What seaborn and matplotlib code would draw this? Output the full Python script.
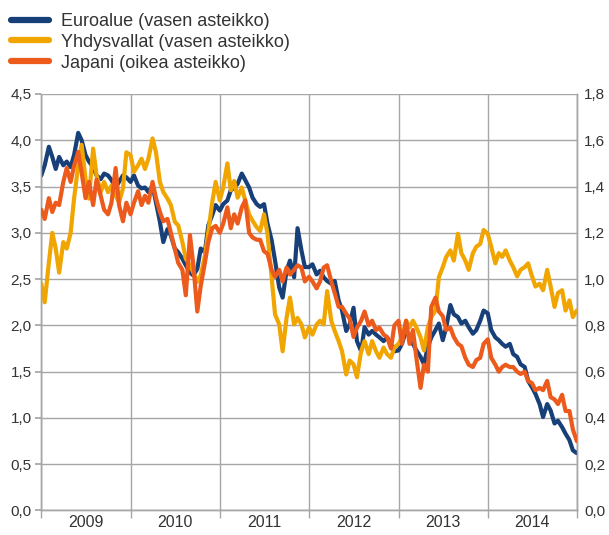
import numpy as np
import pandas as pd
import matplotlib
matplotlib.use("Agg")
import matplotlib.pyplot as plt
import matplotlib.dates as mdates
from matplotlib.lines import Line2D
from matplotlib.ticker import FuncFormatter, MultipleLocator
import seaborn as sns

# ---- data (semi-monthly) ----
euro = [
    3.62, 3.73, 3.93, 3.82, 3.69, 3.82, 3.73, 3.77, 3.71, 3.84, 4.08, 4.00, 3.84, 3.77, 3.71, 3.62, 3.58, 3.64, 3.62, 3.57, 3.49, 3.55, 3.62, 3.60,
    3.55, 3.62, 3.51, 3.48, 3.49, 3.44, 3.51, 3.33, 3.12, 2.90, 3.04, 2.97, 2.83, 2.79, 2.72, 2.65, 2.57, 2.54, 2.61, 2.83, 2.79, 3.08, 3.19, 3.30,
    3.24, 3.31, 3.35, 3.46, 3.49, 3.53, 3.64, 3.57, 3.49, 3.38, 3.31, 3.28, 3.31, 3.10, 2.92, 2.70, 2.41, 2.30, 2.59, 2.70, 2.52, 3.05, 2.81, 2.63,
    2.63, 2.66, 2.55, 2.59, 2.52, 2.48, 2.45, 2.48, 2.27, 2.16, 1.94, 2.01, 2.19, 1.83, 1.72, 1.98, 1.90, 1.94, 1.90, 1.87, 1.83, 1.87, 1.80, 1.72,
    1.73, 1.80, 1.95, 1.87, 1.80, 1.73, 1.66, 1.58, 1.77, 1.87, 1.95, 2.02, 1.84, 1.98, 2.22, 2.12, 2.09, 2.02, 2.05, 1.98, 1.91, 1.95, 2.05, 2.16,
    2.13, 1.95, 1.87, 1.84, 1.80, 1.77, 1.80, 1.69, 1.66, 1.58, 1.55, 1.40, 1.33, 1.26, 1.15, 1.01, 1.15, 1.08, 0.94, 0.97, 0.90, 0.83, 0.76, 0.65,
    0.62,
]
usa = [
    2.45, 2.25, 2.68, 3.00, 2.83, 2.57, 2.90, 2.83, 3.00, 3.37, 3.73, 3.95, 3.58, 3.37, 3.91, 3.62, 3.44, 3.55, 3.44, 3.51, 3.40, 3.33, 3.48, 3.87,
    3.84, 3.66, 3.73, 3.80, 3.69, 3.80, 4.02, 3.87, 3.55, 3.44, 3.37, 3.30, 3.12, 3.08, 2.90, 2.72, 2.65, 2.57, 2.47, 2.54, 2.75, 3.01, 3.33, 3.55,
    3.35, 3.49, 3.75, 3.46, 3.56, 3.38, 3.49, 3.35, 3.20, 3.13, 3.06, 3.02, 3.20, 2.99, 2.52, 2.12, 2.01, 1.72, 2.08, 2.30, 2.01, 2.08, 2.01, 1.87,
    1.98, 1.90, 2.01, 2.05, 2.01, 2.37, 2.05, 1.94, 1.83, 1.72, 1.47, 1.62, 1.58, 1.44, 1.72, 1.83, 1.69, 1.83, 1.72, 1.65, 1.76, 1.69, 1.65, 1.76,
    1.80, 1.87, 2.05, 1.98, 2.05, 1.98, 1.87, 1.73, 1.98, 2.09, 2.16, 2.52, 2.63, 2.74, 2.81, 2.70, 2.99, 2.78, 2.70, 2.60, 2.78, 2.85, 2.88, 3.03,
    2.99, 2.85, 2.67, 2.78, 2.74, 2.81, 2.70, 2.63, 2.53, 2.60, 2.63, 2.67, 2.53, 2.42, 2.45, 2.38, 2.60, 2.42, 2.20, 2.35, 2.38, 2.16, 2.27, 2.09,
    2.16,
]
japan = [
    1.30, 1.26, 1.35, 1.29, 1.33, 1.32, 1.42, 1.48, 1.42, 1.49, 1.55, 1.46, 1.35, 1.42, 1.32, 1.43, 1.36, 1.30, 1.28, 1.33, 1.48, 1.32, 1.25, 1.33,
    1.28, 1.33, 1.38, 1.32, 1.36, 1.33, 1.42, 1.35, 1.29, 1.25, 1.26, 1.20, 1.13, 1.07, 1.04, 0.93, 1.19, 1.06, 0.86, 0.97, 1.07, 1.16, 1.22, 1.23,
    1.20, 1.24, 1.31, 1.22, 1.28, 1.24, 1.31, 1.34, 1.20, 1.18, 1.17, 1.17, 1.12, 1.11, 1.04, 1.01, 1.04, 0.99, 1.05, 1.02, 1.04, 1.06, 1.05, 0.99,
    1.01, 0.99, 0.96, 0.99, 1.05, 1.06, 0.99, 0.94, 0.88, 0.88, 0.85, 0.83, 0.75, 0.79, 0.82, 0.86, 0.80, 0.82, 0.78, 0.79, 0.76, 0.75, 0.70, 0.80,
    0.82, 0.72, 0.82, 0.72, 0.78, 0.66, 0.53, 0.63, 0.60, 0.88, 0.92, 0.86, 0.84, 0.78, 0.79, 0.75, 0.72, 0.71, 0.66, 0.63, 0.62, 0.65, 0.66, 0.72,
    0.74, 0.66, 0.63, 0.60, 0.62, 0.63, 0.62, 0.62, 0.60, 0.59, 0.60, 0.56, 0.55, 0.52, 0.53, 0.52, 0.56, 0.49, 0.48, 0.46, 0.50, 0.43, 0.43, 0.35,
    0.30,
]
labels = ["Euroalue (vasen asteikko)", "Yhdysvallat (vasen asteikko)", "Japani (oikea asteikko)"]
years = ["2009", "2010", "2011", "2012", "2013", "2014"]

dates = list(pd.date_range("2009-01-01", "2014-12-15", freq="SMS")) + [pd.Timestamp("2014-12-31")]
df = pd.DataFrame({"date": dates, "euro": euro, "usa": usa, "japan": japan})

C_EURO = "#173f78"
C_USA = "#f0a500"
C_JAP = "#ec5a1c"
GRID = "#a6a6a6"
TXT = "#333333"

sns.set_theme(style="white")
plt.rcParams["font.family"] = ["Liberation Sans", "DejaVu Sans"]

fig = plt.figure(figsize=(6.09, 5.35), dpi=100)
ax = fig.add_axes([0.0678, 0.0458, 0.8797, 0.7785])
ax2 = ax.twinx()

lw = 3.0
sns.lineplot(data=df, x="date", y="euro", ax=ax, color=C_EURO, linewidth=lw, zorder=3)
sns.lineplot(data=df, x="date", y="usa", ax=ax, color=C_USA, linewidth=lw, zorder=4)
sns.lineplot(data=df, x="date", y="japan", ax=ax2, color=C_JAP, linewidth=lw, zorder=5)

ax.set_xlim(pd.Timestamp("2009-01-01"), pd.Timestamp("2015-01-01"))
ax.set_ylim(0, 4.5)
ax2.set_ylim(0, 1.8)
ax.yaxis.set_major_locator(MultipleLocator(0.5))
ax2.yaxis.set_major_locator(MultipleLocator(0.2))
fmt = FuncFormatter(lambda v, p: f"{v:.1f}".replace(".", ","))
ax.yaxis.set_major_formatter(fmt)
ax2.yaxis.set_major_formatter(fmt)

ax.xaxis.set_major_locator(mdates.YearLocator())
ax.xaxis.set_major_formatter(plt.NullFormatter())
mids = [pd.Timestamp(f"{y}-07-01") for y in years]
ax.set_xticks(mids, labels=years, minor=True)

ax.set_xlabel("")
ax.set_ylabel("")
ax2.set_ylabel("")

ax.grid(True, which="major", axis="both", color=GRID, linewidth=1.0)
ax.set_axisbelow(True)
ax2.grid(False)

for a in (ax, ax2):
    for s in a.spines.values():
        s.set_color(GRID)
        s.set_linewidth(1.0)
    a.spines["top"].set_visible(False)

ax.tick_params(axis="x", which="major", length=6, color=GRID, width=1.0, bottom=True)
ax.tick_params(axis="x", which="minor", length=0, labelsize=11.5, labelcolor=TXT, pad=3)
ax.tick_params(axis="y", length=4, color=GRID, labelsize=11, labelcolor=TXT, pad=3, left=True)
ax2.tick_params(axis="y", length=0, labelsize=11, labelcolor=TXT, pad=5)

handles = [Line2D([], [], color=c, linewidth=4.5) for c in (C_EURO, C_USA, C_JAP)]
fig.legend(handles, labels, loc="upper left", bbox_to_anchor=(0.018, 0.976),
           frameon=False, fontsize=13, labelspacing=0.22, handlelength=2.1,
           handletextpad=0.65, borderpad=0, borderaxespad=0, labelcolor=TXT)

fig.savefig("out.png", dpi=100)
